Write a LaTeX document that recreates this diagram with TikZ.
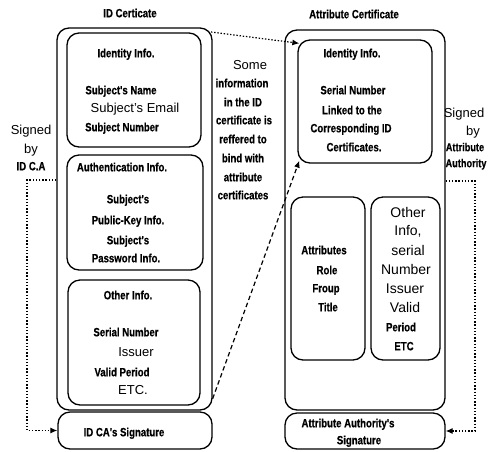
\documentclass[tikz,border=0pt]{standalone}
\usepackage{fontspec}
\setmainfont{Liberation Sans}
\newfontfamily\nb[FakeStretch=0.8, BoldFeatures={FakeBold=0.5}]{Liberation Sans}
\usetikzlibrary{arrows.meta}
\tikzset{
  box/.style={draw, line width=1.3pt, rounded corners=12pt, inner sep=0pt},
  nt/.style={font=\nb\bfseries\fontsize{12}{14}\selectfont, anchor=base, yshift=-4.3pt, inner sep=0pt},
  nx/.style={font=\nb\bfseries\fontsize{11.5}{14}\selectfont, anchor=base, yshift=-4.2pt, inner sep=0pt},
  rt/.style={font=\fontsize{13}{15}\selectfont, anchor=base, yshift=-4.7pt, inner sep=0pt},
  rtb/.style={font=\fontsize{14}{16}\selectfont, anchor=base, yshift=-5pt, inner sep=0pt},
  dotline/.style={line width=1.2pt, dash pattern=on 1.4pt off 1.8pt},
  dashline/.style={line width=1.2pt, dash pattern=on 4.5pt off 3pt},
  tip/.style={-{Latex[length=7pt,width=6pt]}}
}
\begin{document}
\begin{tikzpicture}[x=1pt,y=-1pt]
\useasboundingbox (0,0) rectangle (500,451);
% left certificate
\node[box, minimum width=155pt, minimum height=382pt] (lout) at (134.5,219) {};
\node[box, minimum width=134pt, minimum height=114pt] (lid) at (134,90) {};
\node[box, minimum width=136pt, minimum height=115pt] (lauth) at (135,212.5) {};
\node[box, minimum width=132pt, minimum height=125pt] (loth) at (134,342.5) {};
\node[box, minimum width=154pt, minimum height=37pt] (lsig) at (135,430.5) {};
% right certificate
\node[box, minimum width=160pt, minimum height=380pt] (rout) at (365,220) {};
\node[box, minimum width=134pt, minimum height=123pt] (rid) at (365,101.5) {};
\node[box, minimum width=74pt, minimum height=163pt] (ratt) at (328,278.5) {};
\node[box, minimum width=69pt, minimum height=163pt] (roth) at (405.5,278.5) {};
\node[box, minimum width=160pt, minimum height=36pt] (rsig) at (365,431) {};
% titles
\node[nt] (t1) at (130,13) {ID Certicate};
\node[nt] (t2) at (354,14) {Attribute Certificate};
% left identity
\node[nt] (a1) at (126,53) {Identity Info.};
\node[nt] (a2) at (121,90) {Subject's Name};
\node[rt] (a3) at (135,108) {Subject's Email};
\node[nt] (a4) at (122,127) {Subject Number};
% left auth
\node[nt] (b1) at (122,167) {Authentication Info.};
\node[nt] (b2) at (128,199) {Subject's};
\node[nt] (b3) at (128,220) {Public-Key Info.};
\node[nt] (b4) at (128,240) {Subject's};
\node[nt] (b5) at (126,258) {Password Info.};
% left other
\node[nt] (c1) at (128,295) {Other Info.};
\node[nt] (c2) at (126,332) {Serial Number};
\node[rt] (c3) at (136,352) {Issuer};
\node[nt] (c4) at (122,372) {Valid Period};
\node[rt] (c5) at (133,390) {ETC.};
\node[nt] (c6) at (124,432) {ID CA's Signature};
% middle
\node[rt] (m1) at (250,65) {Some};
\node[nt] (m2) at (242,83) {information};
\node[nt] (m3) at (243,102) {in the ID};
\node[nt] (m4) at (244,120) {certificate is};
\node[nt] (m5) at (243,139) {reffered to};
\node[nt] (m6) at (243,158) {bind with};
\node[nt] (m7) at (243,177) {attribute};
\node[nt] (m8) at (243,195) {certificates};
% signed left
\node[rt] (s1) at (31,130) {Signed};
\node[rt] (s2) at (31,149) {by};
\node[nt] (s3) at (31,166) {ID C.A};
% signed right
\node[rt] (u1) at (464,113) {Signed};
\node[rt] (u2) at (473,131) {by};
\node[nx] (u3) at (465,147) {Attribute};
\node[nx] (u4) at (466,163) {Authority};
% right identity
\node[nt] (d1) at (352,53) {Identity Info.};
\node[nt] (d2) at (353,90) {Serial Number};
\node[nt] (d3) at (352,110) {Linked to the};
\node[nt] (d4) at (351,128) {Corresponding ID};
\node[nt] (d5) at (354,147) {Certificates.};
% attributes
\node[nt] (e1) at (324,250) {Attributes};
\node[nt] (e2) at (327,270) {Role};
\node[nt] (e3) at (326,288) {Froup};
\node[nt] (e4) at (328,307) {Title};
% right other
\node[rtb] (f1) at (408,212) {Other};
\node[rtb] (f2) at (408,230) {Info,};
\node[rtb] (f3) at (408,250) {serial};
\node[rtb] (f4) at (406,269) {Number};
\node[rtb] (f5) at (405,288) {Issuer};
\node[rtb] (f6) at (405,307) {Valid};
\node[nt] (f7) at (401,327) {Period};
\node[nt] (f8) at (404,346) {ETC};
\node[nt] (g1) at (348,423) {Attribute Authority's};
\node[nt] (g2) at (359,440) {Signature};
% connectors
\coordinate (p0) at (211,32);
\draw[dotline, tip] (p0) -- ([xshift=2pt,yshift=-4pt]rid.north west);
\draw[dashline, tip] ([yshift=12pt]lout.south east) -- ([xshift=2pt,yshift=3pt]rid.south west);
\coordinate (lp1) at (27,180);
\coordinate (lp2) at (27,430.5);
\draw[dotline, tip] (lout.west |- lp1) -- (lp1) -- (lp2) -- (lsig.west);
\coordinate (rp1) at (475,181);
\coordinate (rp2) at (475,431);
\draw[dotline, tip] (rout.east |- rp1) -- (rp1) -- (rp2) -- (rsig.east);
\end{tikzpicture}
\end{document}
